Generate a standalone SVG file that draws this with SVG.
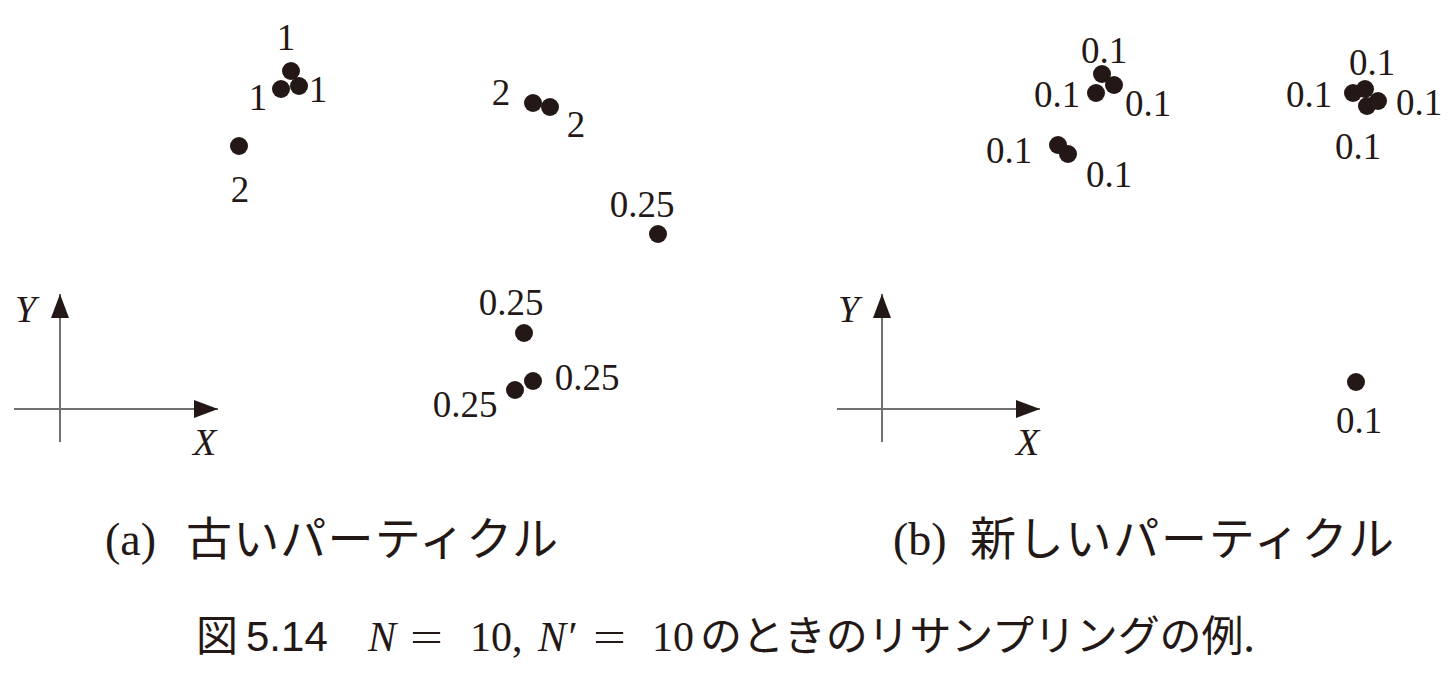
<svg xmlns="http://www.w3.org/2000/svg" width="1454" height="688" viewBox="0 0 1454 688">
<style>
.num{font-family:"Liberation Serif","DejaVu Serif",serif;font-size:37px;fill:#231815;text-anchor:middle}
.var{font-family:"Liberation Serif","DejaVu Serif",serif;font-style:italic;font-size:38px;fill:#231815}
.cap{font-family:"Liberation Serif","DejaVu Serif",serif;font-size:46px;fill:#231815}
.jp{font-family:"Noto Sans CJK JP","Noto Sans CJK SC",sans-serif;font-size:46px;fill:#231815}
.fig{font-family:"Liberation Sans","Noto Sans CJK JP",sans-serif;font-size:42px;fill:#231815}
.figjp{font-family:"Noto Sans CJK JP","Noto Sans CJK SC",sans-serif;font-size:42px;fill:#231815}
.math{font-family:"Liberation Serif","DejaVu Serif",serif;font-size:42px;fill:#231815}
.mathi{font-family:"Liberation Serif","DejaVu Serif",serif;font-style:italic;font-size:42px;fill:#231815}
.dot{fill:#231815}
.axis{stroke:#707070;stroke-width:2;fill:none}
</style>
<defs>
<marker id="arr" markerUnits="userSpaceOnUse" markerWidth="26" markerHeight="20" refX="24" refY="10" orient="auto" viewBox="0 0 26 20">
<path d="M0,1 L24,10 L0,19 z" fill="#231815"/>
</marker>
</defs>
<rect width="1454" height="688" fill="#ffffff"/>

<g id="panel-a-axes">
<line class="axis" x1="60" y1="442" x2="60" y2="294" marker-end="url(#arr)"/>
<line class="axis" x1="14" y1="409" x2="218" y2="409" marker-end="url(#arr)"/>
<text class="var" x="15" y="322">Y</text>
<text class="var" x="193" y="455">X</text>
</g>

<g id="panel-a-particles">
<g id="a-p1"><circle class="dot" cx="291" cy="71" r="9"/><text class="num" x="286" y="50">1</text></g>
<g id="a-p2"><circle class="dot" cx="281" cy="89" r="9"/><text class="num" x="258" y="110">1</text></g>
<g id="a-p3"><circle class="dot" cx="299" cy="86" r="9"/><text class="num" x="318" y="102">1</text></g>
<g id="a-p4"><circle class="dot" cx="239" cy="146" r="9"/><text class="num" x="240" y="202">2</text></g>
<g id="a-p5"><circle class="dot" cx="533" cy="103" r="9"/><text class="num" x="501" y="105">2</text></g>
<g id="a-p6"><circle class="dot" cx="550" cy="107" r="9"/><text class="num" x="576" y="137">2</text></g>
<g id="a-p7"><circle class="dot" cx="658" cy="234" r="9"/><text class="num" x="642" y="217">0.25</text></g>
<g id="a-p8"><circle class="dot" cx="524" cy="333" r="9"/><text class="num" x="511" y="315">0.25</text></g>
<g id="a-p9"><circle class="dot" cx="533" cy="381" r="9"/><text class="num" x="587" y="390">0.25</text></g>
<g id="a-p10"><circle class="dot" cx="515" cy="390" r="9"/><text class="num" x="465" y="417">0.25</text></g>
</g>

<g id="panel-b-axes">
<line class="axis" x1="882" y1="442" x2="882" y2="294" marker-end="url(#arr)"/>
<line class="axis" x1="837" y1="409" x2="1040" y2="409" marker-end="url(#arr)"/>
<text class="var" x="838" y="322">Y</text>
<text class="var" x="1016" y="455">X</text>
</g>

<g id="panel-b-particles">
<g id="b-p1"><circle class="dot" cx="1102" cy="74" r="9"/><text class="num" x="1104" y="63">0.1</text></g>
<g id="b-p2"><circle class="dot" cx="1114" cy="85" r="9"/><text class="num" x="1148" y="116">0.1</text></g>
<g id="b-p3"><circle class="dot" cx="1096" cy="93" r="9"/><text class="num" x="1057" y="107">0.1</text></g>
<g id="b-p4"><circle class="dot" cx="1058" cy="145" r="9"/><text class="num" x="1009" y="163">0.1</text></g>
<g id="b-p5"><circle class="dot" cx="1068" cy="154" r="9"/><text class="num" x="1109" y="187">0.1</text></g>
<g id="b-p6"><circle class="dot" cx="1365" cy="89" r="9"/><text class="num" x="1372" y="75">0.1</text></g>
<g id="b-p7"><circle class="dot" cx="1353" cy="93" r="9"/><text class="num" x="1309" y="107">0.1</text></g>
<g id="b-p8"><circle class="dot" cx="1378" cy="101" r="9"/><text class="num" x="1419" y="115">0.1</text></g>
<g id="b-p9"><circle class="dot" cx="1367" cy="106" r="9"/><text class="num" x="1358" y="159">0.1</text></g>
<g id="b-p10"><circle class="dot" cx="1356" cy="382" r="9"/><text class="num" x="1359" y="433">0.1</text></g>
</g>

<g id="caption-a">
<text class="cap" x="105" y="555">(a)</text>
<text class="jp" x="186" y="555" textLength="372" lengthAdjust="spacing">古いパーティクル</text>
</g>

<g id="caption-b">
<text class="cap" x="893" y="555">(b)</text>
<text class="jp" x="970" y="555" textLength="424" lengthAdjust="spacing">新しいパーティクル</text>
</g>

<g id="figure-caption">
<text class="figjp" x="196" y="651">図</text>
<text class="fig" x="246" y="651">5.14</text>
<text class="mathi" x="368" y="651">N</text>
<text class="math" x="410" y="651" textLength="33" lengthAdjust="spacingAndGlyphs">=</text>
<text class="math" x="470" y="651">10,</text>
<text class="mathi" x="538" y="651">N′</text>
<text class="math" x="593" y="651" textLength="33" lengthAdjust="spacingAndGlyphs">=</text>
<text class="math" x="652" y="651">10</text>
<text class="figjp" x="700" y="651" textLength="555" lengthAdjust="spacing">のときのリサンプリングの例.</text>
</g>
</svg>
